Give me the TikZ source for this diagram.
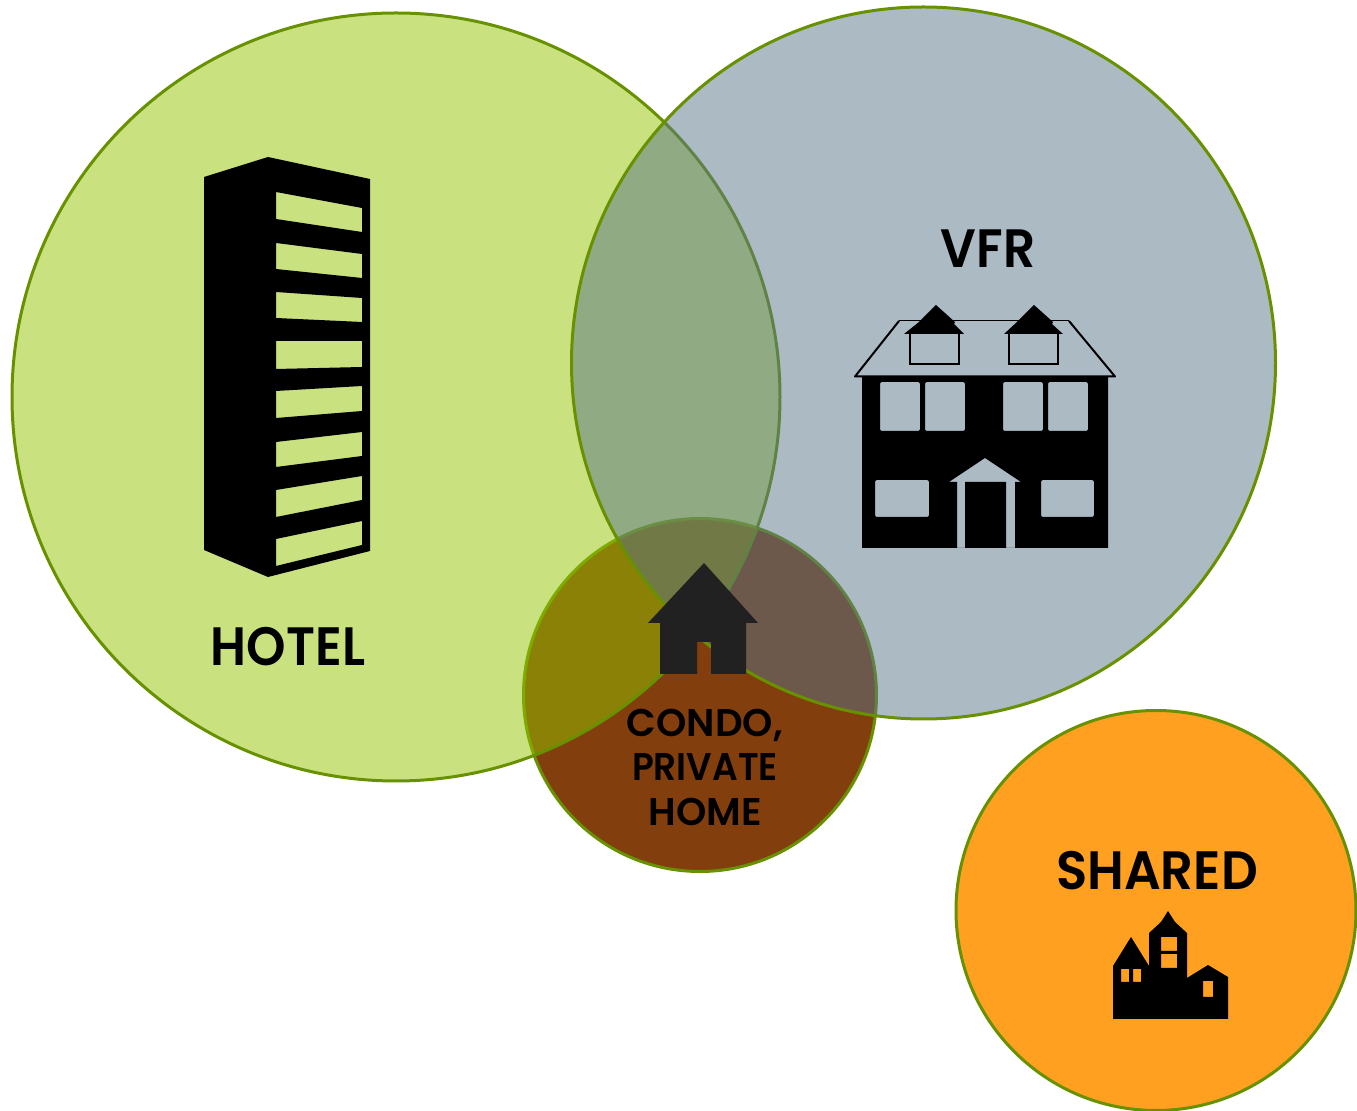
\documentclass[tikz,border=0pt]{standalone}
\usepackage{graphicx}
\usepackage{fontspec}
\setmainfont{Poppins}[BoldFont={Poppins SemiBold}]
\usetikzlibrary{shapes.geometric}
\definecolor{hotelfill}{RGB}{147,197,0}
\definecolor{vfrfill}{RGB}{89,117,137}
\definecolor{condofill}{RGB}{131,62,14}
\definecolor{sharedfill}{RGB}{255,160,32}
\definecolor{ring}{RGB}{104,145,0}
\definecolor{iconblack}{RGB}{0,0,0}
\definecolor{condoicon}{RGB}{33,33,33}
\newcommand{\narrowto}[2]{\scalebox{#1}[1]{#2}}
\tikzset{
  venn/.style={ellipse,draw=ring,line width=1.5pt,inner sep=0pt,minimum width=#1*1pt,minimum height=#1*1pt},
  biglabel/.style={font=\fontsize{27}{30}\bfseries\selectfont,text=black,inner sep=0pt,anchor=center},
  smalllabel/.style={font=\fontsize{19.3}{22.25}\bfseries\selectfont,text=black,inner sep=0pt,align=center,anchor=center},
  icon/.style={fill=iconblack,even odd rule,draw=none}
}
\begin{document}
\begin{tikzpicture}[x=0.5pt,y=-0.5pt]
\useasboundingbox (0,0) rectangle (1357,1111);
% circles (1 px = 0.5 pt, so minimum size in pt = radius in px)
\node[venn=176.5,fill=condofill] (condo) at (700,695) {};
\node[venn=384,fill=hotelfill,fill opacity=0.5] (hotel) at (396,397) {};
\node[venn=352,minimum height=356pt,fill=vfrfill,fill opacity=0.5] (vfr) at (923.5,363) {};
\node[venn=200,fill=sharedfill] (shared) at (1156,910.5) {};
% hotel tower
\fill[icon]
 (204,177)--(268,157)--(370,179)--(370,551)--(268,577)--(204,550)--cycle
 (276,192)--(362,208)--(362,232)--(276,219)--cycle
 (276,243)--(362,254)--(362,278)--(276,269)--cycle
 (276,292)--(362,298)--(362,322)--(276,318)--cycle
 (276,341)--(362,341)--(362,367)--(276,369)--cycle
 (276,391)--(362,386)--(362,411)--(276,418)--cycle
 (276,442)--(362,432)--(362,456)--(276,467)--cycle
 (276,490)--(362,476)--(362,500)--(276,517)--cycle
 (276,539)--(362,521)--(362,545)--(276,566)--cycle;
% VFR house
\draw[black,line width=0.5pt] (899,321)--(1069,321);
\draw[black,line width=1pt,line join=round] (899,321)--(855,376.5)--(1115,376.5)--(1069,321);
\fill[icon]
 (862,377)--(1108,377)--(1108,548)--(862,548)--cycle
 [rounded corners=1pt]
 (880,382) rectangle (920,431)
 (925,382) rectangle (965,431)
 (1003,382) rectangle (1043,431)
 (1048,382) rectangle (1088,431)
 (875,480) rectangle (929,517)
 (1041,480) rectangle (1094,517)
 [sharp corners]
 (985,458)--(1021,482)--(1015,482)--(1015,548)--(1006,548)--(1006,482)--(965,482)--(965,548)--(957,548)--(957,482)--(949,482)--cycle;
\fill[icon] (936,305)--(955,322)--(954,324)--(964,334)--(904,334)--(919,322)--cycle;
\fill[icon] (1034,305)--(1053,322)--(1052,324)--(1063,334)--(1004,334)--(1017,322)--cycle;
\draw[black,line width=0.7pt] (910,334)--(910,364)--(959,364)--(959,334);
\draw[black,line width=0.7pt] (1009,334)--(1009,364)--(1058,364)--(1058,334);
% condo house
\fill[fill=condoicon,even odd rule]
 (704,563)--(758,623)--(746,623)--(746,674)--(711,674)--(711,642)--(697,642)--(697,674)--(660,674)--(660,623)--(648,623)--cycle;
% shared houses
\fill[icon]
 (1113,1019)--(1113,966)--(1131,937)--(1149,966)--(1149,933)--(1161,922)--(1168,911)--(1175,922)--(1187,933)--(1187,978)--(1208,965)--(1228,977)--(1228,1019)--cycle
 (1161,937) rectangle (1177,951)
 (1161,954) rectangle (1177,968)
 (1121,969) rectangle (1129,982)
 (1133,969) rectangle (1141,982)
 (1203,981) rectangle (1213,997);
% labels
\node[biglabel] (hotellabel) at (288,647) {\narrowto{0.93}{HOTEL}};
\node[biglabel] (vfrlabel) at (988,249) {\narrowto{0.93}{VFR}};
\node[biglabel] (sharedlabel) at (1157,871) {\narrowto{0.95}{SHARED}};
\node[smalllabel] (condolabel) at (705,767) {CONDO,\\\narrowto{0.93}{PRIVATE}\\HOME};
\end{tikzpicture}
\end{document}
